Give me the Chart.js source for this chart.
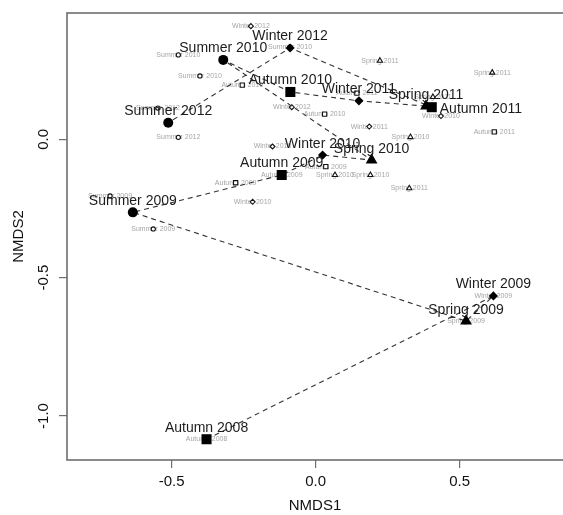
<!DOCTYPE html>
<html><head><meta charset="utf-8">
<script src="https://cdn.jsdelivr.net/npm/chart.js@4.4.1/dist/chart.umd.min.js"></script>
<style>html,body{margin:0;padding:0;background:#fff;overflow:hidden}#wrap{width:563px;height:515px;overflow:hidden}</style>
</head><body><div id="wrap"><canvas id="c" width="580" height="515"></canvas></div>
<script>
// Season centroids (chronological order, joined by the dashed path)
const mainLabels = ['Autumn 2008','Winter 2009','Spring 2009','Summer 2009','Autumn 2009','Winter 2010','Spring 2010','Summer 2010','Autumn 2010','Winter 2011','Spring 2011','Autumn 2011','Winter 2012','Summer 2012'];
const mainX = [-0.379, 0.617, 0.522, -0.635, -0.118, 0.024, 0.194, -0.321, -0.088, 0.150, 0.383, 0.403, -0.089, -0.512];
const mainY = [-1.084, -0.566, -0.657, -0.264, -0.129, -0.057, -0.075, 0.287, 0.171, 0.139, 0.120, 0.116, 0.330, 0.060];

// Individual samples (small hollow symbols with grey labels)
const repLabels = ['Winter 2012','Summer 2010','Summer 2010','Summer 2010','Autumn 2010','Winter 2012','Summer 2012','Summer 2012','Winter 2010','Autumn 2010','Autumn 2011','Spring 2011','Spring 2011','Spring 2011','Winter 2010','Winter 2011','Spring 2010','Autumn 2011','Autumn 2009','Spring 2010','Spring 2010','Spring 2011','Autumn 2009','Winter 2010','Summer 2009','Summer 2009','Autumn 2009','Winter 2009','Spring 2009','Autumn 2008'];
const repX = [-0.225, -0.477, -0.402, -0.089, -0.255, -0.083, -0.548, -0.477, -0.150, 0.031, 0.143, 0.223, 0.613, 0.407, 0.435, 0.186, 0.329, 0.620, 0.035, 0.067, 0.190, 0.325, -0.278, -0.219, -0.564, -0.714, -0.118, 0.617, 0.522, -0.379];
const repY = [0.409, 0.305, 0.229, 0.334, 0.196, 0.116, 0.113, 0.007, -0.026, 0.091, 0.167, 0.284, 0.241, 0.153, 0.084, 0.046, 0.008, 0.027, -0.099, -0.129, -0.129, -0.177, -0.157, -0.226, -0.324, -0.205, -0.129, -0.566, -0.657, -1.084];

const xTicks = [-0.5, 0.0, 0.5];
const yTicks = [-1.0, -0.5, 0.0];
const xTitle = 'NMDS1';
const yTitle = 'NMDS2';

const seasonStyle = {
  Autumn: {style:'rect', big:7.1, small:3.0},
  Winter: {style:'rectRot', big:4.6, small:2.5},
  Spring: {style:'triangle', big:6.8, small:3.0},
  Summer: {style:'circle', big:5.0, small:2.1}
};
const season = l => seasonStyle[l.split(' ')[0]];
const FONT = '"Liberation Sans", Arial, sans-serif';

const labelPlugin = {
  id: 'labels',
  beforeDatasetsDraw(chart) {
    const ctx = chart.ctx, xs = chart.scales.x, ys = chart.scales.y;
    ctx.save();
    ctx.font = '7px ' + FONT;
    ctx.fillStyle = '#a6a6a6';
    ctx.textAlign = 'center';
    ctx.textBaseline = 'middle';
    repLabels.forEach((l, i) => {
      ctx.fillText(l, xs.getPixelForValue(repX[i]), ys.getPixelForValue(repY[i]));
    });
    ctx.restore();
  },
  afterDatasetsDraw(chart) {
    const ctx = chart.ctx, xs = chart.scales.x, ys = chart.scales.y;
    ctx.save();
    ctx.font = '14px ' + FONT;
    ctx.fillStyle = '#1c1c1c';
    mainLabels.forEach((l, i) => {
      const px = xs.getPixelForValue(mainX[i]), py = ys.getPixelForValue(mainY[i]);
      if (l === 'Autumn 2011') {
        ctx.textAlign = 'left'; ctx.textBaseline = 'alphabetic';
        ctx.fillText(l, px + 8, py + 6);
      } else {
        ctx.textAlign = 'center'; ctx.textBaseline = 'alphabetic';
        ctx.fillText(l, px, py - 7.5);
      }
    });
    ctx.restore();
  },
  afterDraw(chart) {
    const ctx = chart.ctx, a = chart.chartArea, ys = chart.scales.y;
    ctx.save();
    ctx.strokeStyle = '#6e6e6e';
    ctx.lineWidth = 1.6;
    ctx.strokeRect(a.left, a.top, a.right - a.left, a.bottom - a.top);
    ctx.fillStyle = '#111';
    ctx.font = '15px ' + FONT;
    ctx.textAlign = 'center';
    ctx.textBaseline = 'middle';
    yTicks.forEach(v => {
      ctx.save();
      ctx.translate(44, ys.getPixelForValue(v));
      ctx.rotate(-Math.PI / 2);
      ctx.fillText(v.toFixed(1), 0, 0);
      ctx.restore();
    });
    ctx.fillText(xTitle, 315, 506);
    ctx.save();
    ctx.translate(18.5, (a.top + a.bottom) / 2);
    ctx.rotate(-Math.PI / 2);
    ctx.fillText(yTitle, 0, 0);
    ctx.restore();
    ctx.restore();
  }
};

const mainPts = mainX.map((x, i) => ({x, y: mainY[i]}));
const repPts = repX.map((x, i) => ({x, y: repY[i]}));

const chart = new Chart(document.getElementById('c'), {
  type: 'scatter',
  data: {
    datasets: [
      {
        label: 'centroids', data: mainPts, order: 1,
        pointStyle: mainLabels.map(l => season(l).style),
        pointRadius: mainLabels.map(l => season(l).big),
        backgroundColor: '#000', borderColor: '#000', borderWidth: 0
      },
      {
        type: 'line', label: 'path', data: mainPts, order: 2,
        showLine: true, pointRadius: 0, borderColor: '#333', borderWidth: 1.1,
        borderDash: [5, 4], fill: false, tension: 0
      },
      {
        label: 'samples', data: repPts, order: 3,
        pointStyle: repLabels.map(l => season(l).style),
        pointRadius: repLabels.map(l => season(l).small),
        backgroundColor: '#fff', borderColor: '#111', borderWidth: 1.1
      }
    ]
  },
  options: {
    responsive: false, animation: false, devicePixelRatio: 1,
    layout: {padding: {top: 13, left: 0, right: 0, bottom: 0}},
    plugins: {legend: {display: false}, tooltip: {enabled: false}},
    scales: {
      x: {
        type: 'linear', min: -0.8635, max: 0.87,
        afterBuildTicks: s => { s.ticks = xTicks.map(v => ({value: v})); },
        afterFit: s => { s.height = 55; },
        grid: {display: true, drawOnChartArea: false, drawTicks: true, tickLength: 8, color: '#6e6e6e', lineWidth: 1.2},
        border: {display: false},
        ticks: {font: {family: FONT, size: 15}, color: '#111', padding: 5, maxRotation: 0, autoSkip: false,
                callback: v => Number(v).toFixed(1)}
      },
      y: {
        type: 'linear', min: -1.159, max: 0.4565,
        afterBuildTicks: s => { s.ticks = yTicks.map(v => ({value: v})); },
        afterFit: s => { s.width = 67; },
        grid: {display: true, drawOnChartArea: false, drawTicks: true, tickLength: 8, color: '#6e6e6e', lineWidth: 1.2},
        border: {display: false},
        ticks: {display: false}
      }
    }
  },
  plugins: [labelPlugin]
});

// Fit the axis ranges to the plotted area so that x=0 sits at 315.7px (288px per unit)
// and y=0 at 139.3px (276.7px per unit), as in the reference.
const a = chart.chartArea;
chart.options.scales.x.min = (a.left - 315.7) / 288;
chart.options.scales.x.max = (a.right - 315.7) / 288;
chart.options.scales.y.max = (139.3 - a.top) / 276.7;
chart.options.scales.y.min = (139.3 - a.bottom) / 276.7;
chart.update('none');
</script></body></html>
